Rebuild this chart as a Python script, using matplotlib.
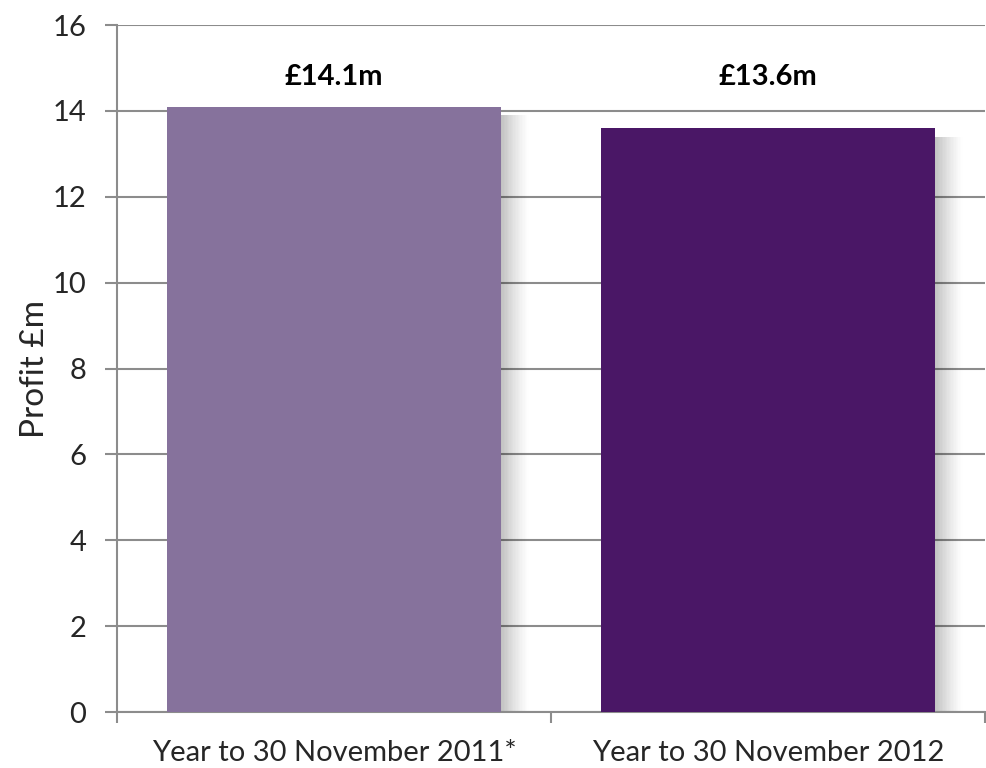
import numpy as np
import matplotlib
matplotlib.use("Agg")
from matplotlib import pyplot as plt

# data
categories = ["Year to 30 November 2011*", "Year to 30 November 2012"]
profit = [14.1, 13.6]
value_labels = ["£14.1m", "£13.6m"]
colors = ["#86729c", "#4a1766"]

plt.rcParams['font.family'] = ['Lato', 'DejaVu Sans']

fig = plt.figure(figsize=(9.86, 7.68), dpi=100)
ax = fig.add_axes([0.1187, 0.0729, 0.88, 0.8945])

x = np.arange(len(categories))
width = 0.77

# soft shadow to the right of each bar
n = 20
step = 0.0032
for i in range(n):
    a = 0.24 * (1 - i / n) ** 1.3
    ax.bar(x + width / 2 + i * step, np.array(profit) - 0.2, width=step,
           bottom=0, align='edge', color='black', alpha=a, linewidth=0, zorder=2)

ax.bar(x, profit, width=width, color=colors, zorder=3)

for xi, lab in zip(x, value_labels):
    ax.text(xi, 14.8, lab, ha='center', va='center', fontsize=21, fontweight='bold')

ax.set_xlim(-0.5, 1.5)
ax.set_ylim(0, 16)
ax.set_yticks(range(0, 17, 2))
ax.yaxis.grid(True, color='#8c8c8c', linewidth=1.5, zorder=0)
ax.set_axisbelow(True)

ax.set_xticks(x)
ax.set_xticklabels(categories, fontsize=21, color='#262626')
ax.tick_params(axis='x', which='major', length=0, pad=20)
ax.set_xticks([-0.5, 0.5, 1.5], minor=True)
ax.tick_params(axis='x', which='minor', length=8, width=1.5, color='#8c8c8c', direction='out')
ax.tick_params(axis='y', length=9, width=1.5, color='#8c8c8c', labelsize=21,
               labelcolor='#262626', pad=13)

for s in ['top', 'right']:
    ax.spines[s].set_visible(False)
for s in ['left', 'bottom']:
    ax.spines[s].set_color('#8c8c8c')
    ax.spines[s].set_linewidth(1.5)

ax.set_ylabel("Profit £m", fontsize=24, color='#262626')
ax.yaxis.set_label_coords(-0.077, 0.5)

plt.savefig("out.png", dpi=100)
